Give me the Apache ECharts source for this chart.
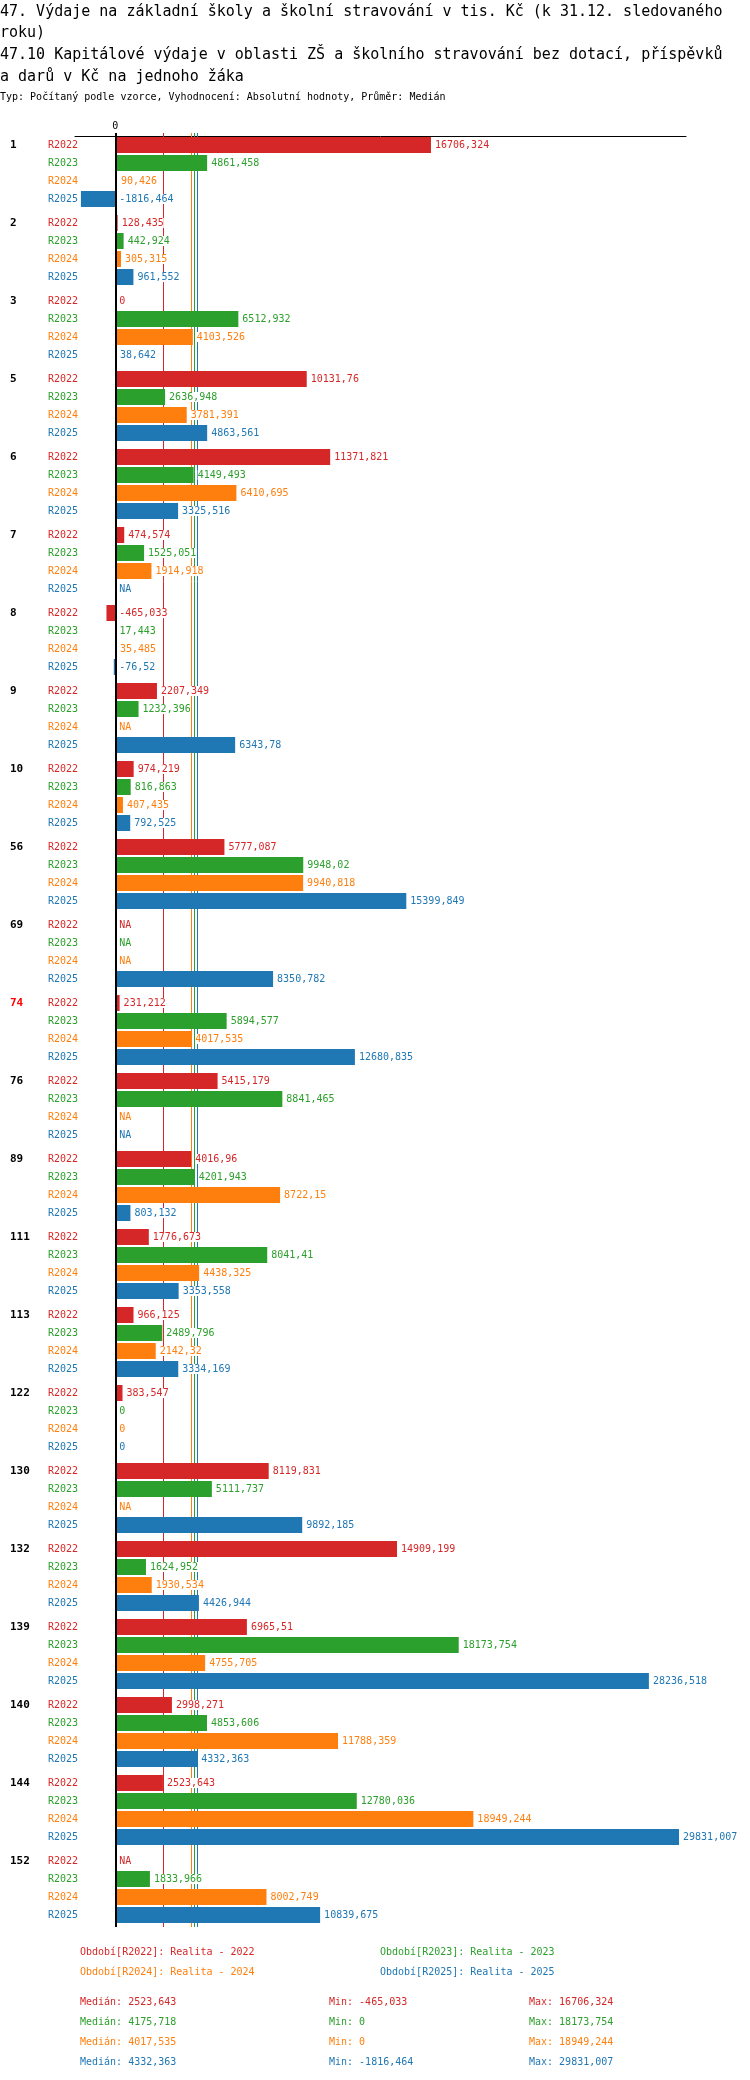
<!DOCTYPE html>
<html>
<head>
<meta charset="utf-8">
<script src="https://cdn.jsdelivr.net/npm/echarts@6/dist/echarts.min.js"></script>
<style>
html,body{margin:0;padding:0;background:#fff;}
#chart{width:750px;height:2080px;}
</style>
</head>
<body>
<div id="chart"></div>
<script>
// ---- data ----
const groups = ['1','2','3','5','6','7','8','9','10','56','69','74','76','89','111','113','122','130','132','139','140','144','152'];
const seriesNames = ['R2022','R2023','R2024','R2025'];
const periodNames = ['Realita - 2022','Realita - 2023','Realita - 2024','Realita - 2025'];
const r2022 = [16706.324,128.435,0,10131.76,11371.821,474.574,-465.033,2207.349,974.219,5777.087,null,231.212,5415.179,4016.96,1776.673,966.125,383.547,8119.831,14909.199,6965.51,2998.271,2523.643,null];
const r2023 = [4861.458,442.924,6512.932,2636.948,4149.493,1525.051,17.443,1232.396,816.863,9948.02,null,5894.577,8841.465,4201.943,8041.41,2489.796,0,5111.737,1624.952,18173.754,4853.606,12780.036,1833.966];
const r2024 = [90.426,305.315,4103.526,3781.391,6410.695,1914.918,35.485,null,407.435,9940.818,null,4017.535,null,8722.15,4438.325,2142.32,0,null,1930.534,4755.705,11788.359,18949.244,8002.749];
const r2025 = [-1816.464,961.552,38.642,4863.561,3325.516,null,-76.52,6343.78,792.525,15399.849,8350.782,12680.835,null,803.132,3353.558,3334.169,0,9892.185,4426.944,28236.518,4332.363,29831.007,10839.675];
const highlightGroup = '74';

const title1 = '47. Výdaje na základní školy a školní stravování v tis. Kč (k 31.12. sledovaného\nroku)\n47.10 Kapitálové výdaje v oblasti ZŠ a školního stravování bez dotací, příspěvků\na darů v Kč na jednoho žáka';
const title2 = 'Typ: Počítaný podle vzorce, Vyhodnocení: Absolutní hodnoty, Průměr: Medián';

const colors = ['#d62728','#2ca02c','#ff7f0e','#1f77b4'];
const allSeries = [r2022, r2023, r2024, r2025];
const MONO = '"DejaVu Sans Mono", monospace';

function fmt(v){ return String(Math.round(v*1000)/1000).replace('.', ','); }
function median(arr){
  const a = arr.filter(v => v !== null).sort((x,y)=>x-y);
  const n = a.length;
  return n % 2 ? a[(n-1)/2] : (a[n/2-1] + a[n/2]) / 2;
}
function minOf(arr){ return Math.min(...arr.filter(v => v !== null)); }
function maxOf(arr){ return Math.max(...arr.filter(v => v !== null)); }

const chart = echarts.init(document.getElementById('chart'), null, {renderer:'canvas', width:750, height:2080});

const barSeries = allSeries.map((arr, i) => ({
  name: seriesNames[i],
  type: 'bar',
  z: 3,
  barWidth: 16,
  barGap: '12.5%',
  itemStyle: {color: colors[i]},
  label: {
    show: true,
    position: 'right',
    distance: 4,
    color: colors[i],
    fontSize: 10,
    fontFamily: MONO,
    backgroundColor: '#fff',
    formatter: p => (p.data && p.data.na) ? 'NA' : fmt(p.value)
  },
  data: arr.map(v => v === null ? {value: 0, na: true} : {value: v})
}));

const medianLines = {
  type: 'line',
  z: 1,
  data: [],
  silent: true,
  markLine: {
    silent: true,
    z: 1,
    symbol: 'none',
    label: {show: false},
    animation: false,
    data: allSeries.map((arr, i) => ({xAxis: median(arr), lineStyle: {color: colors[i], width: 1, type: 'solid'}}))
  }
};
const zeroLine = {
  type: 'line',
  z: 5,
  data: [],
  silent: true,
  markLine: {
    silent: true,
    z: 5,
    symbol: 'none',
    label: {show: false},
    animation: false,
    data: [{xAxis: 0, lineStyle: {color: '#000', width: 2, type: 'solid'}}]
  }
};

const rich = {
  g: {width: 38, fontWeight: 'bold', fontSize: 11, color: '#000', fontFamily: MONO, lineHeight: 18},
  gr: {width: 38, fontWeight: 'bold', fontSize: 11, color: '#ff0000', fontFamily: MONO, lineHeight: 18}
};
seriesNames.forEach((s, i) => { rich['s'+i] = {color: colors[i], fontSize: 10, fontFamily: MONO, lineHeight: 18}; });

const graphics = [];
const legendPos = [[80,1952],[380,1952],[80,1972],[380,1972]];
const legendOrder = [0,1,2,3];
legendOrder.forEach((si, k) => {
  graphics.push({type:'text', x: legendPos[k][0], y: legendPos[k][1], silent: true,
    style:{text: 'Období[' + seriesNames[si] + ']: ' + periodNames[si], fill: colors[si], font: '10px ' + MONO, verticalAlign: 'middle'}});
});
allSeries.forEach((arr, i) => {
  const y = 2002 + i*20;
  graphics.push({type:'text', x: 80, y: y, silent: true, style:{text: 'Medián: ' + fmt(median(arr)), fill: colors[i], font: '10px ' + MONO, verticalAlign: 'middle'}});
  graphics.push({type:'text', x: 329, y: y, silent: true, style:{text: 'Min: ' + fmt(minOf(arr)), fill: colors[i], font: '10px ' + MONO, verticalAlign: 'middle'}});
  graphics.push({type:'text', x: 529, y: y, silent: true, style:{text: 'Max: ' + fmt(maxOf(arr)), fill: colors[i], font: '10px ' + MONO, verticalAlign: 'middle'}});
});

const option = {
  animation: false,
  backgroundColor: '#fff',
  textStyle: {fontFamily: MONO},
  title: [
    {text: title1, left: 0, top: 1, padding: 0,
     textStyle: {fontFamily: MONO, fontSize: 15, fontWeight: 'normal', color: '#000', lineHeight: 21.7}},
    {text: title2, left: 0, top: 91, padding: 0,
     textStyle: {fontFamily: MONO, fontSize: 10, fontWeight: 'normal', color: '#000', lineHeight: 12}}
  ],
  grid: {left: 75, right: 64, top: 133, height: 1794, containLabel: false, outerBoundsMode: 'none'},
  xAxis: {
    type: 'value',
    position: 'top',
    offset: -3,
    min: -2130,
    max: 30200,
    interval: 2130,
    splitLine: {show: false},
    axisTick: {show: false},
    axisLine: {show: true, onZero: false, lineStyle: {color: '#000', width: 1}},
    axisLabel: {show: true, margin: 5, color: '#000', fontSize: 10, fontFamily: MONO,
      formatter: v => v === 0 ? '0' : '', showMinLabel: true, showMaxLabel: false}
  },
  yAxis: {
    type: 'category',
    inverse: true,
    data: groups,
    axisLine: {show: false},
    axisTick: {show: false},
    splitLine: {show: false},
    axisLabel: {
      show: true,
      interval: 0,
      align: 'left',
      margin: 65,
      lineHeight: 18,
      fontFamily: MONO,
      formatter: name => {
        const g = name === highlightGroup ? 'gr' : 'g';
        return '{' + g + '|' + name + '}{s0|' + seriesNames[0] + '}\n{g| }{s1|' + seriesNames[1] + '}\n{g| }{s2|' + seriesNames[2] + '}\n{g| }{s3|' + seriesNames[3] + '}';
      },
      rich: rich
    }
  },
  graphic: graphics,
  series: [medianLines].concat(barSeries).concat([zeroLine])
};
chart.setOption(option);
</script>
</body>
</html>
